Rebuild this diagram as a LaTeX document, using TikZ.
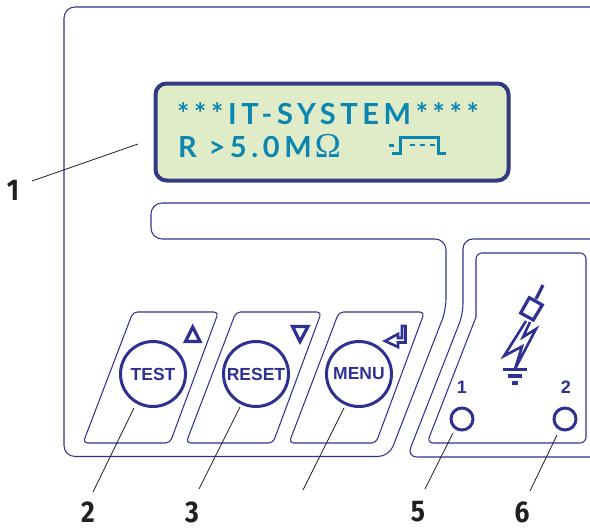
\documentclass[tikz,border=0pt]{standalone}
\usepackage{fontspec}
\setmainfont{Liberation Sans}
\newfontfamily\lcdfont{Lato}[BoldFont={* Bold}]
\newfontfamily\numfont{Fira Sans}
\newfontfamily\omfont{Liberation Serif}
\definecolor{panel}{HTML}{2E3192}
\definecolor{lcdframe}{HTML}{323A80}
\definecolor{lcdfill}{HTML}{E0ECC8}
\definecolor{lcdtext}{HTML}{0A86B0}
\definecolor{leader}{HTML}{231F20}
\tikzset{
  frameline/.style={draw=panel,line width=1.05pt,line join=round},
  btnarea/.style={frameline,rounded corners=4.5pt},
  btn/.style={circle,draw=panel,line width=3pt,minimum size=65pt,inner sep=0pt,font=\fontsize{17.5}{17.5}\selectfont\bfseries,text=panel},
  jack/.style={circle,draw=panel,line width=3pt,minimum size=22pt,inner sep=0pt},
  jacklabel/.style={text=panel,font=\fontsize{18}{18}\selectfont\bfseries,inner sep=0pt},
  callout/.style={font=\numfont\bfseries\fontsize{30}{30}\selectfont,text=leader,inner sep=0pt,xscale=0.88},
  leaderline/.style={draw=leader,line width=0.8pt},
  symbol/.style={draw=panel,line width=3.2pt,line join=miter},
  lcdline/.style={anchor=base west,inner sep=0pt,text=lcdtext,font=\lcdfont\bfseries\fontsize{29}{29}\selectfont},
  sig/.style={draw=lcdtext,line width=3pt}
}
\begin{document}
\begin{tikzpicture}[x=1pt,y=-1pt]
\useasboundingbox (0,0) rectangle (590,528);
\clip (0,0) rectangle (590,528);
% main frame
\draw[frameline,rounded corners=11pt] (600,7) -- (64,7) -- (64,456.5) -- (389,456.5) -- (446,310) -- (446,239) -- (151,239) -- (151,203) -- (600,203);
% right panel
\draw[frameline,rounded corners=10pt] (600,239) -- (463,239) -- (463,314) -- (407,457) -- (600,457);
\draw[frameline,rounded corners=6pt] (476,317) -- (476,253) -- (586,253) -- (586,443) -- (427,443) -- (476,317);
% LCD
\node[draw=lcdframe,line width=4pt,fill=lcdfill,rounded corners=11pt,minimum width=353pt,minimum height=97pt,inner sep=0pt] (lcd) at (332,132) {};
\node[lcdline] (lcdA) at (177,124) {\addfontfeature{LetterSpace=16}***IT-SYSTEM****};
\node[lcdline] (lcdB) at (178,157) {\addfontfeature{LetterSpace=16}R >5.0M\kern3pt{\omfont\mdseries\fontsize{35}{35}\selectfont Ω}};
\draw[sig] (389,145) -- (394,145);
\draw[sig] (392,153.5) -- (400,153.5) -- (400,137) -- (438.5,137) -- (438.5,153) -- (446,153);
\draw[sig,line width=2.6pt,dash pattern=on 5pt off 5pt] (409.5,145) -- (435,145);
% buttons
\foreach \d/\n in {0/a,103/b,206/c}{
  \draw[btnarea,xshift=\d pt] (133,312) -- (218.5,312) -- (170,443) -- (83,443) -- cycle;
}
\node[btn] (test) at (153,374) {TEST};
\node[btn] (reset) at (256,374) {RESET};
\node[btn] (menu) at (359,374) {MENU};
\draw[symbol] (192.7,327) -- (185.5,341.5) -- (200,341.5) -- cycle;
\draw[symbol] (292.5,326.5) -- (308,326.5) -- (300,341.5) -- cycle;
\draw[symbol,line width=2.6pt] (385,341) -- (398,334) -- (398,338) -- (402,338) -- (402,326) -- (405.5,326) -- (405.5,342.5) -- (398,342.5) -- (398,347) -- cycle;
% earth symbol
\draw[symbol] (543,285) -- (536,299);
\draw[symbol] (529.3,297.7) -- (542.3,305) -- (533.3,320) -- (520.7,313) -- cycle;
\draw[symbol,line width=2.6pt] (526,321) -- (504,356) -- (522,346.5) -- (515,369) -- (536,329) -- (523,337) -- (530,322);
\draw[symbol,line width=3.2pt] (503,369.5) -- (527,369.5);
\draw[symbol] (508,376) -- (522,376);
\draw[symbol] (512,383) -- (518,383);
% jacks
\node[jack] (j1) at (462,419) {};
\node[jack] (j2) at (565,419) {};
\node[jacklabel] (l1) at (462,387) {1};
\node[jacklabel] (l2) at (566,387) {2};
% callouts
\node[callout] (n1) at (13,190) {1};
\node[callout] (n2) at (88,512) {2};
\node[callout] (n3) at (192,512) {3};
\node[callout] (n5) at (418,512) {5};
\node[callout] (n6) at (522,512) {6};
% leader ends
\coordinate (c1a) at (32,181); \coordinate (c1b) at (138,144);
\coordinate (c2a) at (93,492); \coordinate (c2b) at (134,408);
\coordinate (c3a) at (199,489); \coordinate (c3b) at (240,407);
\coordinate (c4a) at (303,490); \coordinate (c4b) at (344,408);
\coordinate (c5a) at (425,489); \coordinate (c5b) at (453,433);
\coordinate (c6a) at (530,491); \coordinate (c6b) at (557,435);
\foreach \k in {1,2,3,4,5,6}{\draw[leaderline] (c\k a) -- (c\k b);}
\end{tikzpicture}
\end{document}
